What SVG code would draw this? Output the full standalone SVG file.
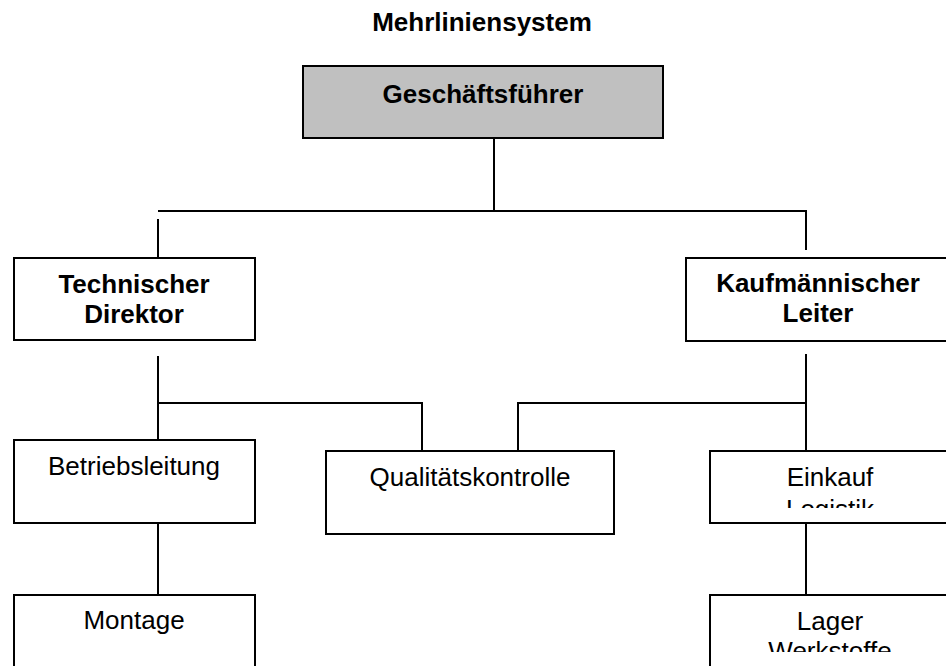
<svg xmlns="http://www.w3.org/2000/svg" width="946" height="666" viewBox="0 0 946 666">
  <style>
    .box { fill: #ffffff; stroke: #000000; stroke-width: 2; }
    .head { fill: #c0c0c0; stroke: #000000; stroke-width: 2; }
    .line { fill: none; stroke: #000000; stroke-width: 2; }
    .t { font-family: "Liberation Sans", Arial, sans-serif; font-size: 26px; fill: #000000; text-anchor: middle; }
    .b { font-weight: bold; }
  </style>
  <defs>
    <clipPath id="clipEinkauf"><rect x="711" y="452" width="240" height="56"/></clipPath>
    <clipPath id="clipLager"><rect x="711" y="596" width="240" height="56"/></clipPath>
  </defs>
  <rect width="946" height="666" fill="#ffffff"/>

  <text class="t b" x="482" y="31">Mehrliniensystem</text>

  <!-- connectors -->
  <g id="connectors">
    <line class="line" x1="494" y1="138" x2="494" y2="211"/>
    <line class="line" x1="158" y1="211" x2="807" y2="211"/>
    <line class="line" x1="158" y1="219" x2="158" y2="258"/>
    <line class="line" x1="806" y1="211" x2="806" y2="250"/>
    <line class="line" x1="158" y1="356" x2="158" y2="450"/>
    <line class="line" x1="806" y1="354" x2="806" y2="451"/>
    <polyline class="line" points="158,403 422,403 422,451"/>
    <polyline class="line" points="806,403 518,403 518,451"/>
    <line class="line" x1="158" y1="523" x2="158" y2="595"/>
    <line class="line" x1="806" y1="523" x2="806" y2="595"/>
  </g>

  <g id="geschaeftsfuehrer">
    <rect class="head" x="303" y="66" width="360" height="72"/>
    <text class="t b" x="483" y="103">Geschäftsführer</text>
  </g>

  <g id="technischer-direktor">
    <rect class="box" x="14" y="258" width="241" height="82"/>
    <text class="t b" x="134" y="293">Technischer</text>
    <text class="t b" x="134" y="323">Direktor</text>
  </g>

  <g id="kaufmaennischer-leiter">
    <rect class="box" x="686" y="258" width="264" height="83"/>
    <text class="t b" x="818" y="292">Kaufmännischer</text>
    <text class="t b" x="818" y="322">Leiter</text>
  </g>

  <g id="betriebsleitung">
    <rect class="box" x="14" y="440" width="241" height="83"/>
    <text class="t" x="134" y="475">Betriebsleitung</text>
  </g>

  <g id="qualitaetskontrolle">
    <rect class="box" x="326" y="451" width="288" height="83"/>
    <text class="t" x="470" y="486">Qualitätskontrolle</text>
  </g>

  <g id="einkauf-logistik">
    <rect class="box" x="710" y="451" width="240" height="72"/>
    <g clip-path="url(#clipEinkauf)">
      <text class="t" x="830" y="486">Einkauf</text>
      <text class="t" x="830" y="518">Logistik</text>
    </g>
  </g>

  <g id="montage">
    <rect class="box" x="14" y="595" width="241" height="90"/>
    <text class="t" x="134" y="629">Montage</text>
  </g>

  <g id="lager-werkstoffe">
    <rect class="box" x="710" y="595" width="240" height="90"/>
    <g clip-path="url(#clipLager)">
      <text class="t" x="830" y="630">Lager</text>
      <text class="t" x="830" y="660">Werkstoffe</text>
    </g>
  </g>
</svg>
